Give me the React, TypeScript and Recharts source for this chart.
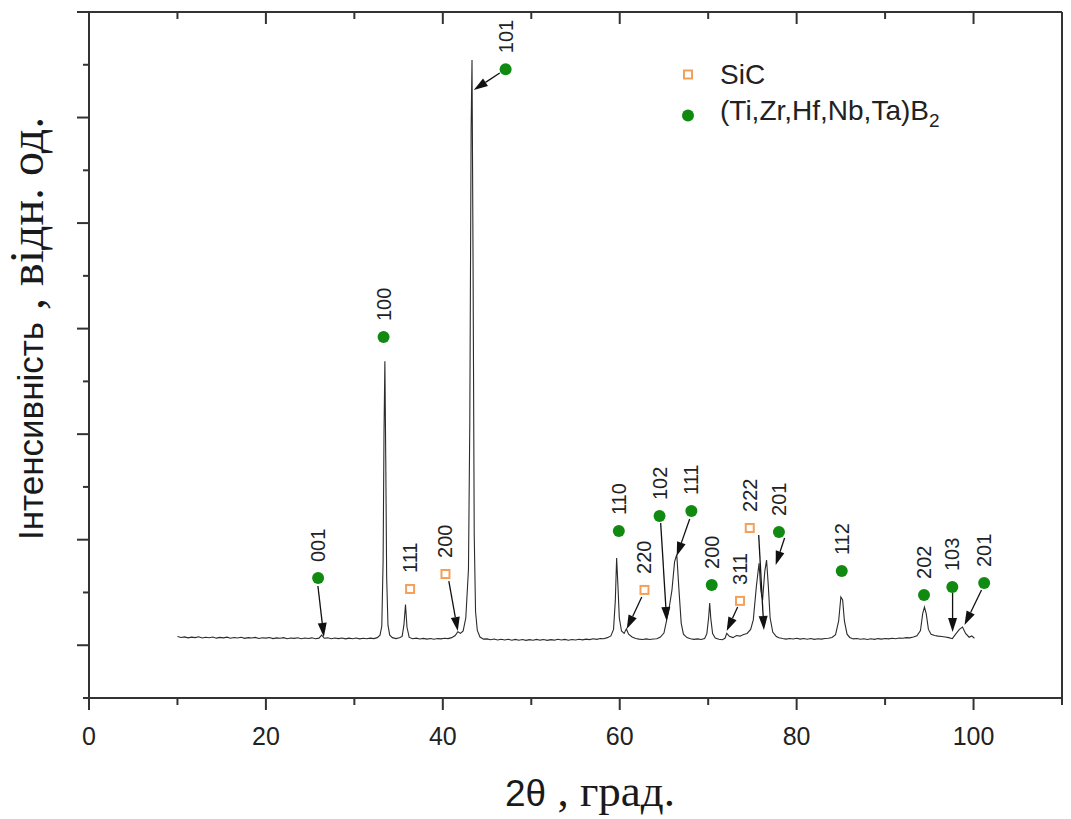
import {
  ComposedChart,
  Line,
  Scatter,
  XAxis,
  YAxis,
  ReferenceLine,
  Legend,
} from "recharts";

// XRD scan: [2theta, counts]
const scan: [number, number][] = [
  [10.0, 82], [10.4, 74], [10.8, 79], [11.2, 70], [11.6, 77], [12.0, 72], [12.4, 80], [12.8, 69],
  [13.2, 76], [13.6, 71], [14.0, 78], [14.4, 67], [14.8, 74], [15.2, 70], [15.6, 77], [16.0, 66],
  [16.4, 73], [16.8, 69], [17.2, 75], [17.6, 65], [18.0, 72], [18.4, 68], [18.8, 74], [19.2, 64],
  [19.6, 71], [20.0, 67], [20.4, 73], [20.8, 63], [21.2, 70], [21.6, 66], [22.0, 72], [22.4, 62],
  [22.8, 69], [23.2, 65], [23.6, 71], [24.0, 62], [24.4, 68], [24.8, 64], [25.2, 70], [25.6, 61],
  [26.0, 67], [26.3, 96], [26.6, 66], [27.0, 70], [27.4, 61], [27.8, 68], [28.2, 63], [28.6, 69],
  [29.0, 60], [29.4, 67], [29.8, 62], [30.2, 68], [30.6, 60], [31.0, 66], [31.4, 61], [31.8, 67],
  [32.2, 63], [32.6, 72], [32.9, 95], [33.1, 180], [33.25, 800], [33.35, 2000], [33.45, 2690],
  [33.55, 1750], [33.65, 650], [33.8, 190], [34.0, 95], [34.3, 72], [34.7, 63], [35.1, 70],
  [35.4, 84], [35.6, 190], [35.78, 385], [35.95, 170], [36.2, 74], [36.6, 61], [37.0, 67],
  [37.4, 59], [37.8, 65], [38.2, 58], [38.6, 64], [39.0, 57], [39.4, 63], [39.8, 60], [40.2, 66],
  [40.6, 63], [41.0, 72], [41.4, 92], [41.7, 128], [42.0, 112], [42.3, 135], [42.6, 260],
  [42.9, 720], [43.05, 2100], [43.2, 4900], [43.3, 5545], [43.42, 3600], [43.55, 1050],
  [43.7, 320], [43.9, 140], [44.2, 78], [44.6, 58], [45.0, 60], [45.4, 52], [45.8, 59], [46.2, 50],
  [46.6, 57], [47.0, 49], [47.4, 56], [47.8, 48], [48.2, 55], [48.6, 47], [49.0, 54], [49.4, 46],
  [49.8, 53], [50.2, 47], [50.6, 55], [51.0, 48], [51.4, 54], [51.8, 46], [52.2, 53], [52.6, 48],
  [53.0, 56], [53.4, 49], [53.8, 55], [54.2, 47], [54.6, 54], [55.0, 50], [55.4, 57], [55.8, 51],
  [56.2, 58], [56.6, 53], [57.0, 61], [57.4, 56], [57.8, 64], [58.2, 62], [58.6, 72], [59.0, 88],
  [59.3, 150], [59.5, 420], [59.65, 826], [59.8, 560], [59.95, 260], [60.2, 135], [60.5, 112],
  [60.75, 155], [61.0, 104], [61.4, 78], [61.8, 64], [62.2, 58], [62.6, 55], [63.0, 60],
  [63.4, 54], [63.8, 59], [64.2, 62], [64.6, 78], [65.0, 115], [65.3, 235], [65.6, 360],
  [65.9, 520], [66.2, 790], [66.45, 860], [66.7, 520], [66.95, 210], [67.2, 105], [67.6, 72],
  [68.0, 61], [68.4, 56], [68.8, 60], [69.2, 55], [69.6, 64], [69.85, 110], [70.05, 260],
  [70.17, 400], [70.3, 250], [70.5, 110], [70.8, 68], [71.2, 56], [71.6, 52], [71.9, 66],
  [72.1, 112], [72.4, 84], [72.8, 72], [73.2, 92], [73.6, 86], [74.0, 102], [74.4, 112],
  [74.8, 150], [75.1, 240], [75.45, 560], [75.75, 777], [75.95, 520], [76.15, 430], [76.4, 700],
  [76.6, 807], [76.8, 560], [77.0, 260], [77.3, 125], [77.7, 82], [78.0, 70], [78.4, 63],
  [78.8, 58], [79.2, 64], [79.6, 59], [80.0, 66], [80.4, 58], [80.8, 64], [81.2, 57], [81.6, 63],
  [82.0, 56], [82.4, 62], [82.8, 58], [83.2, 64], [83.6, 66], [84.0, 74], [84.4, 100],
  [84.75, 230], [85.0, 457], [85.2, 430], [85.4, 230], [85.7, 105], [86.0, 74], [86.4, 60],
  [86.8, 64], [87.2, 57], [87.6, 62], [88.0, 55], [88.4, 61], [88.8, 56], [89.2, 63], [89.6, 58],
  [90.0, 64], [90.4, 60], [90.8, 66], [91.2, 62], [91.6, 69], [92.0, 66], [92.4, 72], [92.8, 70],
  [93.2, 78], [93.6, 90], [94.0, 140], [94.25, 300], [94.45, 362], [94.65, 300], [94.9, 150],
  [95.2, 104], [95.6, 92], [96.0, 86], [96.4, 82], [96.8, 78], [97.2, 72], [97.6, 62], [98.0, 108],
  [98.4, 150], [98.75, 172], [99.1, 112], [99.5, 76], [99.8, 88], [100.1, 66],
];

// phase markers
const sicTheta = [36.3, 40.3, 62.8, 73.6, 74.7];
const sicHeight = [533, 675, 524, 420, 1111];
const sicHkl = ["111", "200", "220", "311", "222"];

const borideTheta = [25.9, 33.3, 47.1, 59.9, 64.5, 68.1, 70.4, 78.0, 85.1, 94.4, 97.6, 101.2];
const borideHeight = [637, 2920, 5458, 1082, 1224, 1272, 571, 1073, 703, 476, 551, 589];
const borideHkl = ["001", "100", "101", "110", "102", "111", "200", "201", "112", "202", "103", "201"];

// arrows: [fromTheta, fromCounts, toTheta, toCounts]
const arrows: [number, number, number, number][] = [
  [25.88, 561, 26.55, 78],
  [46.44, 5422, 43.5, 5261],
  [40.68, 608, 41.69, 135],
  [62.49, 457, 60.79, 153],
  [64.63, 1158, 65.31, 229],
  [67.91, 1196, 66.44, 845],
  [73.33, 362, 72.09, 135],
  [75.71, 1044, 76.3, 144],
  [78.64, 1016, 77.63, 760],
  [97.63, 495, 97.63, 125],
  [100.9, 523, 98.98, 191],
];

const xTicks = [0, 10, 20, 30, 40, 50, 60, 70, 80, 90, 100, 110];
const yTicks = [-500, 0, 500, 1000, 1500, 2000, 2500, 3000, 3500, 4000, 4500, 5000, 5500, 6000];
const rightTicks = [0, 1, 2, 3, 4, 5, 6, 7, 8, 9, 10, 11, 12];

const sicName = "SiC";
const borideName = "(Ti,Zr,Hf,Nb,Ta)B";

const scanData = scan.map(([x, y]) => ({ x, y }));
const sicData = sicTheta.map((x, i) => ({ x, y: sicHeight[i], hkl: sicHkl[i] }));
const borideData = borideTheta.map((x, i) => ({ x, y: borideHeight[i], hkl: borideHkl[i] }));

const axisColor = "#333";
const green = "#108a10";
const orange = "#f5a05a";
const sans = "'Liberation Sans', Arial, sans-serif";
const serif = "'Liberation Serif', 'Times New Roman', serif";

const hklText = (cx: number, cy: number, hkl: string) => (
  <text
    transform={`translate(${cx + 7},${cy - 16}) rotate(-90)`}
    fontFamily={sans}
    fontSize={20}
    fill="#222"
  >
    {hkl}
  </text>
);

const SquareMark = (props: any) => {
  const { cx, cy, payload } = props;
  return (
    <g>
      <rect x={cx - 4} y={cy - 4} width={8} height={8} fill="#fff" stroke={orange} strokeWidth={2} />
      {hklText(cx, cy, payload.hkl)}
    </g>
  );
};

const CircleMark = (props: any) => {
  const { cx, cy, payload } = props;
  return (
    <g>
      <circle cx={cx} cy={cy} r={6} fill={green} />
      {hklText(cx, cy, payload.hkl)}
    </g>
  );
};

const Arrow = (props: any) => {
  const { x1, y1, x2, y2 } = props;
  const dx = x2 - x1;
  const dy = y2 - y1;
  const len = Math.sqrt(dx * dx + dy * dy) || 1;
  const ux = dx / len;
  const uy = dy / len;
  const hl = 14;
  const hw = 4.5;
  const bx = x2 - ux * hl;
  const by = y2 - uy * hl;
  return (
    <g>
      <line x1={x1} y1={y1} x2={bx} y2={by} stroke="#111" strokeWidth={1.3} />
      <polygon
        points={`${x2},${y2} ${bx - uy * hw},${by + ux * hw} ${bx + uy * hw},${by - ux * hw}`}
        fill="#111"
      />
    </g>
  );
};

const renderLegend = () => (
  <div style={{ fontFamily: sans, fontSize: 28, color: "#222", lineHeight: "41px" }}>
    <div style={{ display: "flex", alignItems: "center", height: 41 }}>
      <svg width={48} height={41}>
        <rect x={12} y={16.5} width={8} height={8} fill="#fff" stroke={orange} strokeWidth={2} />
      </svg>
      <span>{sicName}</span>
    </div>
    <div style={{ display: "flex", alignItems: "center", height: 41 }}>
      <svg width={48} height={41}>
        <circle cx={16} cy={20.5} r={6} fill={green} />
      </svg>
      <span>
        {borideName}
        <sub style={{ fontSize: 19 }}>2</sub>
      </span>
    </div>
  </div>
);

const App = () => {
  return (
    <div style={{ position: "absolute", left: 0, top: 0, width: 1071, height: 819, background: "#fff" }}>
      <ComposedChart width={1071} height={819} margin={{ top: 11, right: 8, bottom: 120, left: 88 }}>
        <XAxis
          xAxisId="b"
          type="number"
          dataKey="x"
          domain={[0, 110]}
          ticks={xTicks}
          interval={0}
          allowDataOverflow
          height={1}
          tickSize={0}
          tickMargin={0}
          tickLine={false}
          axisLine={{ stroke: axisColor, strokeWidth: 2 }}
          tick={(p: any) => {
            const v = p.payload.value;
            const major = v % 20 === 0;
            return (
              <g>
                <line x1={p.x} x2={p.x} y1={p.y} y2={p.y + (major ? 12 : 7)} stroke={axisColor} strokeWidth={2} />
                {major && v <= 100 && (
                  <text x={p.x} y={p.y + 47} textAnchor="middle" fontFamily={sans} fontSize={25} fill="#222">
                    {v}
                  </text>
                )}
              </g>
            );
          }}
        />
        <XAxis
          xAxisId="t"
          orientation="top"
          type="number"
          dataKey="x"
          domain={[0, 110]}
          ticks={xTicks}
          interval={0}
          allowDataOverflow
          height={1}
          tickSize={0}
          tickMargin={0}
          tickLine={false}
          axisLine={{ stroke: axisColor, strokeWidth: 2 }}
          tick={(p: any) => {
            const major = p.payload.value % 20 === 0;
            return (
              <line x1={p.x} x2={p.x} y1={p.y} y2={p.y + (major ? 12 : 7)} stroke={axisColor} strokeWidth={2} />
            );
          }}
        />
        <YAxis
          yAxisId="l"
          type="number"
          dataKey="y"
          domain={[-500, 6000]}
          ticks={yTicks}
          interval={0}
          allowDataOverflow
          width={1}
          tickSize={0}
          tickMargin={0}
          tickLine={false}
          axisLine={{ stroke: axisColor, strokeWidth: 2 }}
          tick={(p: any) => {
            const major = p.payload.value % 1000 === 0;
            return (
              <line x1={p.x - (major ? 12 : 6)} x2={p.x} y1={p.y} y2={p.y} stroke={axisColor} strokeWidth={2} />
            );
          }}
        />
        <YAxis
          yAxisId="r"
          orientation="right"
          type="number"
          domain={[0, 12]}
          ticks={rightTicks}
          interval={0}
          width={1}
          tickSize={0}
          tickMargin={0}
          tickLine={false}
          axisLine={{ stroke: axisColor, strokeWidth: 2 }}
          tick={(p: any) => (
            <line x1={p.x} x2={p.x + 8} y1={p.y} y2={p.y} stroke={axisColor} strokeWidth={2} />
          )}
        />
        <Line
          xAxisId="b"
          yAxisId="l"
          data={scanData}
          dataKey="y"
          type="linear"
          stroke="#2b2b2b"
          strokeWidth={1.1}
          dot={false}
          activeDot={false}
          isAnimationActive={false}
        />
        {arrows.map((a, i) => (
          <ReferenceLine
            key={i}
            xAxisId="b"
            yAxisId="l"
            segment={[{ x: a[0], y: a[1] }, { x: a[2], y: a[3] }]}
            ifOverflow="visible"
            shape={Arrow}
          />
        ))}
        <Scatter
          name={sicName}
          xAxisId="b"
          yAxisId="l"
          data={sicData}
          shape={SquareMark}
          isAnimationActive={false}
        />
        <Scatter
          name={borideName}
          xAxisId="b"
          yAxisId="l"
          data={borideData}
          shape={CircleMark}
          isAnimationActive={false}
        />
        <Legend
          layout="vertical"
          align="center"
          verticalAlign="middle"
          content={renderLegend}
          wrapperStyle={{ left: 672, top: 54, width: 340 }}
        />
      </ComposedChart>
      <svg
        width={1071}
        height={819}
        style={{ position: "absolute", left: 0, top: 0, pointerEvents: "none" }}
      >
        <text transform="translate(43,540) rotate(-90)" fill="#1a1a1a">
          <tspan fontFamily={sans} fontSize={35}>Інтенсивність</tspan>
          <tspan fontFamily={serif} fontSize={48}> , відн. од.</tspan>
        </text>
        <text x={505} y={806} fill="#1a1a1a">
          <tspan fontFamily={sans} fontSize={37}>2θ</tspan>
          <tspan fontFamily={serif} fontSize={45}> , град.</tspan>
        </text>
      </svg>
    </div>
  );
};

export default App;
